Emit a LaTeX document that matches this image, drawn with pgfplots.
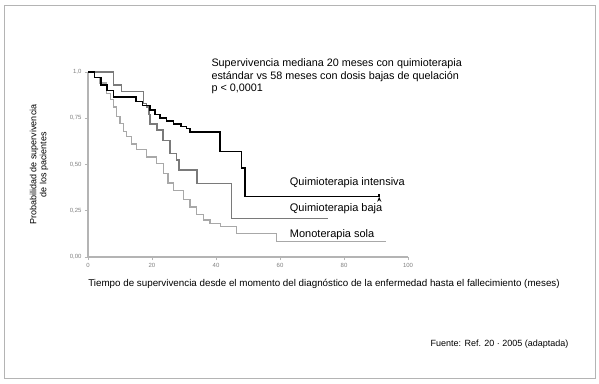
\documentclass[border=0pt]{standalone}
\usepackage{pgfplots}
\pgfplotsset{compat=1.18}
\usepackage{fontspec}
\setmainfont{Liberation Sans}
\usetikzlibrary{arrows.meta}
\definecolor{midgray}{HTML}{7A7A7A}
\definecolor{ltgray}{HTML}{A8A8A8}
\definecolor{axgray}{HTML}{B4B4B4}
\begin{document}
\begin{tikzpicture}
\fill[white] (0pt,0pt) rectangle (599pt,383pt);
\draw[axgray, line width=0.8pt] (4pt,5pt) rectangle (595pt,378pt);
\begin{axis}[
  at={(88pt,126pt)}, anchor=origin,
  scale only axis, width=320pt, height=185pt,
  xmin=0, xmax=100, ymin=0, ymax=1,
  axis lines=left, axis line style={axgray, line width=1.6pt, -},
  xtick={0,20,40,60,80,100},
  ytick={0,0.25,0.5,0.75,1},
  yticklabels={0{,}00,0{,}25,0{,}50,0{,}75,1{,}0},
  tick style={axgray, line width=0.6pt},
  tick align=outside, major tick length=3pt,
  ticklabel style={font=\fontsize{6}{7}\selectfont, text=gray},
  /pgf/number format/assume math mode=true,
  clip=false,
  xlabel={Tiempo de supervivencia desde el momento del diagnóstico de la enfermedad hasta el fallecimiento (meses)},
  xlabel style={font=\fontsize{9.8}{11}\selectfont, anchor=north west, at={(axis description cs:-0.01,-0.1)}},
  ylabel={\begin{tabular}{c}Probabilidad de supervivencia\\de los pacientes\end{tabular}},
  ylabel style={font=\fontsize{9}{10}\selectfont, at={(axis description cs:-0.11,0.5)}},
]
\addplot[const plot mark left, ltgray, line width=1.3pt] coordinates {
(0,1.0) (2,0.97) (3.75,0.94) (5.8,0.885) (7,0.85) (7.9,0.81) (9,0.76) (10,0.72)
(11,0.68) (12.1,0.65) (13.5,0.61) (15.2,0.58) (18.3,0.54) (21.5,0.505) (23.5,0.45)
(25,0.40) (26.7,0.36) (29.8,0.31) (31.9,0.27) (34,0.23) (36,0.20) (38.1,0.18)
(41.3,0.165) (46.5,0.128) (59,0.083) (93,0.083)};
\addplot[const plot mark left, midgray, line width=1.5pt] coordinates {
(0,1.0) (7.9,0.93) (10.5,0.894) (17.3,0.83) (18.3,0.81) (19,0.77) (19.4,0.72)
(21.5,0.686) (23.5,0.63) (25.6,0.56) (27.7,0.524) (28.5,0.47) (34,0.398)
(44.9,0.209) (75,0.209)};
\addplot[const plot mark left, black, line width=1.5pt, -{Stealth[length=5pt,width=4pt]}] coordinates {
(0,1.0) (2,0.97) (4,0.93) (6,0.90) (8,0.866) (15,0.84) (17,0.82) (19.4,0.795)
(21,0.77) (22.5,0.75) (24.5,0.735) (26.7,0.72) (29,0.705) (30.8,0.695) (31.9,0.677)
(41.3,0.57) (48,0.48) (49,0.326) (91,0.326)};
\node[anchor=west, font=\fontsize{11}{13}\selectfont] at (axis cs:62,0.40) {Quimioterapia intensiva};
\node[anchor=west, font=\fontsize{11}{13}\selectfont] at (axis cs:62,0.26) {Quimioterapia baja};
\node[anchor=west, font=\fontsize{11}{13}\selectfont] at (axis cs:62,0.12) {Monoterapia sola};
\node[anchor=north west, align=left, font=\fontsize{10.8}{12.5}\selectfont] at (axis cs:37.5,1.09)
 {Supervivencia mediana 20 meses con quimioterapia\\estándar vs 58 meses con dosis bajas de quelación\\p < 0,0001};
\end{axis}
\node[anchor=east, font=\fontsize{9}{10}\selectfont] at (572pt,39pt) {Fuente: Ref. 20 · 2005 (adaptada)};
\end{tikzpicture}
\end{document}
